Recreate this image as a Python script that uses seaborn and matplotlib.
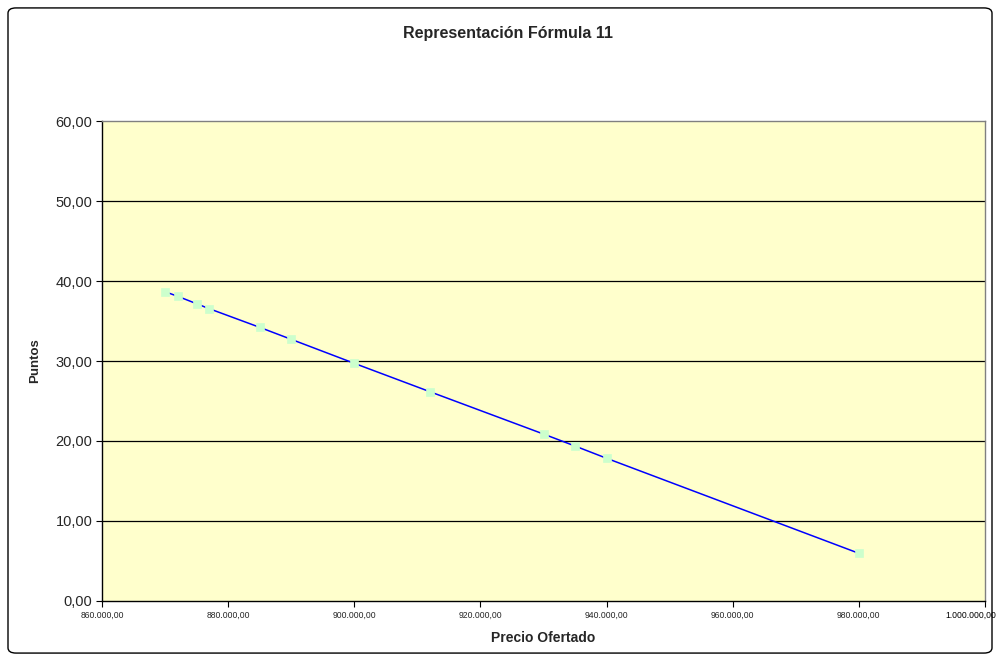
import matplotlib
matplotlib.use("Agg")
import matplotlib.pyplot as plt
from matplotlib.patches import FancyBboxPatch
from matplotlib.ticker import FuncFormatter, MultipleLocator
import seaborn as sns
import pandas as pd

# Offered prices and the score each one receives under formula 11
precio = [870000, 872000, 875000, 877000, 885000, 890000, 900000,
          912000, 930000, 935000, 940000, 980000]
puntos = [38.66, 38.09, 37.16, 36.54, 34.21, 32.71, 29.71,
          26.16, 20.87, 19.37, 17.84, 5.96]

titulo = "Representación Fórmula 11"
etiqueta_x = "Precio Ofertado"
etiqueta_y = "Puntos"
x_min, x_max = 860000, 1000000

sns.set_theme(style="white")
plt.rcParams["font.family"] = ["Liberation Sans", "DejaVu Sans"]

df = pd.DataFrame({"precio": precio, "puntos": puntos})

fig = plt.figure(figsize=(10, 6.61), dpi=100)
fig.patch.set_facecolor("white")

# rounded outer frame of the chart
frame = FancyBboxPatch((0.008, 0.012), 0.984, 0.976,
                       boxstyle="round,pad=0,rounding_size=0.008",
                       transform=fig.transFigure, facecolor="none",
                       edgecolor="black", linewidth=1.0, zorder=0)
fig.patches.append(frame)

ax = fig.add_axes([0.102, 0.0908, 0.883, 0.7261])
ax.set_facecolor("#FFFFCC")

sns.lineplot(data=df, x="precio", y="puntos", ax=ax, color="#0000FF",
             linewidth=1.1, marker="s", markersize=6,
             markerfacecolor="#CCFFCC", markeredgecolor="#CCFFCC",
             markeredgewidth=0.5, zorder=3)

ax.set_xlim(x_min, x_max)
ax.set_ylim(0, 60)
ax.xaxis.set_major_locator(MultipleLocator(20000))
ax.yaxis.set_major_locator(MultipleLocator(10))


def fmt_es(v, decimals=2):
    s = f"{v:,.{decimals}f}"
    return s.replace(",", "X").replace(".", ",").replace("X", ".")


# the right-most price label is placed separately so it stays inside the frame
ax.xaxis.set_major_formatter(
    FuncFormatter(lambda v, p: "" if v >= x_max else fmt_es(v)))
ax.yaxis.set_major_formatter(FuncFormatter(lambda v, p: fmt_es(v)))
ax.annotate(fmt_es(x_max), xy=(x_max, 0), xycoords=("data", "axes fraction"),
            xytext=(8, -7), textcoords="offset points", ha="right", va="top",
            fontsize=6.2, color="black", annotation_clip=False)

for yv in range(10, 60, 10):
    ax.axhline(yv, color="black", linewidth=0.9, zorder=1)

for side in ("top", "right"):
    ax.spines[side].set_color("#808080")
    ax.spines[side].set_linewidth(1.0)
for side in ("left", "bottom"):
    ax.spines[side].set_color("black")
    ax.spines[side].set_linewidth(1.0)

ax.tick_params(axis="x", which="major", direction="out", length=4,
               width=0.8, color="black", labelsize=6.2, pad=3)
ax.tick_params(axis="y", which="major", direction="out", length=4,
               width=0.8, color="black", labelsize=10.5, pad=3)
ax.xaxis.set_ticks_position("bottom")
ax.yaxis.set_ticks_position("left")

ax.set_xlabel(etiqueta_x, fontsize=10, fontweight="bold", labelpad=8)
ax.set_ylabel(etiqueta_y, fontsize=9.5, fontweight="bold", labelpad=10)

fig.text(0.508, 0.9486, titulo, ha="center", va="center",
         fontsize=11.5, fontweight="bold")

fig.savefig("out.png", dpi=100)
